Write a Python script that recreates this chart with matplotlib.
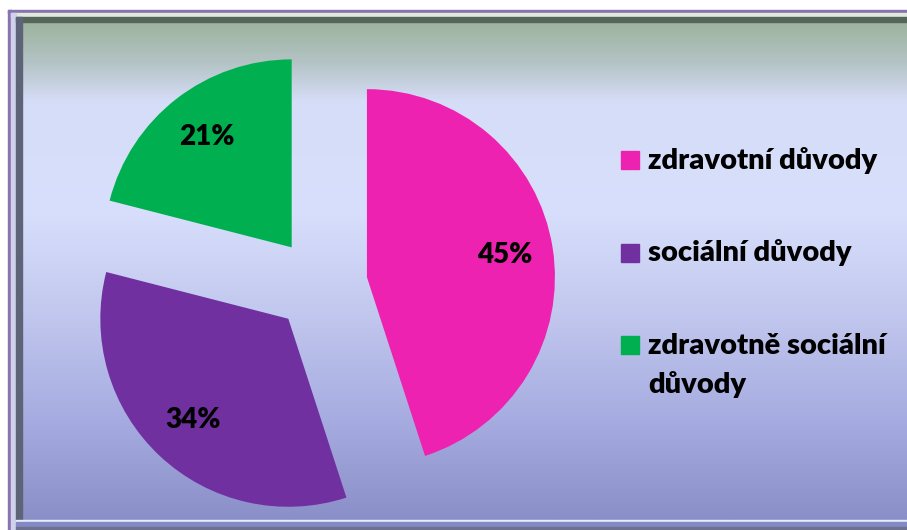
import numpy as np
import matplotlib
matplotlib.use("Agg")
import matplotlib.pyplot as plt
from matplotlib.colors import LinearSegmentedColormap
from matplotlib.patches import Rectangle

# =============================================================================
# Data
# =============================================================================
labels = ["zdravotní důvody", "sociální důvody", "zdravotně sociální\ndůvody"]
values = [45, 34, 21]
colors = ["#ee22b0", "#7030a0", "#00b050"]

FONT = ["Lato", "DejaVu Sans"]
WEIGHT = "heavy"

W, H = 907, 530
fig = plt.figure(figsize=(W / 100, H / 100), dpi=100, facecolor="white")

# =============================================================================
# Background (gradient panel + bevelled frame), pixel coordinates
# =============================================================================
bg = fig.add_axes([0, 0, 1, 1])
bg.set_xlim(0, W)
bg.set_ylim(H, 0)
bg.axis("off")

stops = [(0.00, "#9db39e"), (0.08, "#b3c3c4"), (0.16, "#d6ddf8"),
         (0.38, "#d8dffc"), (0.55, "#c6ccf0"), (0.80, "#a6ace0"),
         (1.00, "#8a8fc8")]
cmap = LinearSegmentedColormap.from_list("panel", stops)
grad = np.linspace(0, 1, 256).reshape(-1, 1)
bg.imshow(grad, cmap=cmap, aspect="auto", extent=(22, W, 520, 21), zorder=1)

# outer purple line and light bevel
bg.add_patch(Rectangle((8, 10), W, 2.5, color="#8a72b0", zorder=2))
bg.add_patch(Rectangle((8, 10), 2.5, H, color="#8a72b0", zorder=2))
bg.add_patch(Rectangle((10.5, 12.5), W, 4.5, color="#dfe9dc", zorder=2))
bg.add_patch(Rectangle((10.5, 12.5), 5.5, H, color="#cfd3ea", zorder=2))
# dark inner bevel
bg.add_patch(Rectangle((16, 17), W, 4.5, color="#55655a", zorder=2))
bg.add_patch(Rectangle((16, 17), 6, 503, color="#5d6478", zorder=2))
# bottom edge
bg.add_patch(Rectangle((16, 519.5), W, 2.5, color="#e8ecff", zorder=2))
bg.add_patch(Rectangle((16, 522), W, 5, color="#8389c2", zorder=2))
bg.add_patch(Rectangle((16, 527), W, 3, color="#6e7090", zorder=2))

# =============================================================================
# Pie
# =============================================================================
R = 188.0
cx, cy = 320.5, 284.5
half = 240.0
ax = fig.add_axes([(cx - half) / W, (H - cy - half) / H, 2 * half / W, 2 * half / H])
wedges, texts, autotexts = ax.pie(
    values, colors=colors, startangle=90, counterclock=False,
    explode=[0.25] * len(values), autopct="%.0f%%", pctdistance=0.74,
    textprops=dict(fontsize=20, fontweight=WEIGHT, family=FONT, color="black"),
    wedgeprops=dict(linewidth=0))
ax.set_xlim(-half / R, half / R)
ax.set_ylim(-half / R, half / R)
ax.axis("off")

# =============================================================================
# Legend
# =============================================================================
for i, (lab, col) in enumerate(zip(labels, colors)):
    base = 169 + i * 92.5
    bg.add_patch(Rectangle((621, base - 18), 18, 18, color=col, zorder=3))
    for j, line in enumerate(lab.split("\n")):
        bg.text(648, base + j * 39, line, fontsize=21, fontweight=WEIGHT,
                family=FONT, va="baseline", ha="left", zorder=3)

fig.savefig("out.png", dpi=100, facecolor="white")
